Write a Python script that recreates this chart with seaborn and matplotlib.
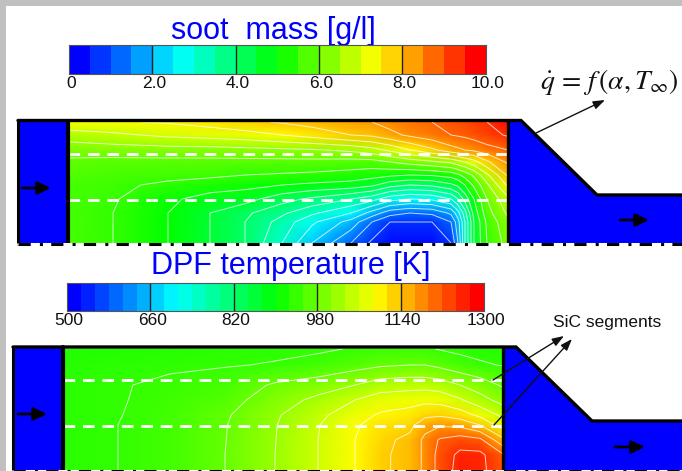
"""
Soot mass and DPF temperature fields in the filter, with the two colour scales
Outputs out.png
"""

import matplotlib.pyplot as plt
import numpy as np
import seaborn as sns
from matplotlib.colors import LinearSegmentedColormap
from matplotlib.patches import Polygon, Rectangle
from matplotlib.transforms import ScaledTranslation

sns.set_style('white')
plt.rcParams['font.family'] = ['Liberation Sans', 'DejaVu Sans']
plt.rcParams['mathtext.fontset'] = 'stix'

soot_bands = [0.25, 0.75, 1.25, 1.75, 2.25, 2.75, 3.25, 3.75, 4.25, 4.75,
              5.25, 5.75, 6.25, 6.75, 7.25, 7.75, 8.25, 8.75, 9.25, 9.75]
soot_ticks = ['0', '2.0', '4.0', '6.0', '8.0', '10.0']

temp_bands = [513, 540, 567, 593, 620, 647, 673, 700, 727, 753,
              780, 807, 833, 860, 887, 913, 940, 967, 993, 1020,
              1047, 1073, 1100, 1127, 1153, 1180, 1207, 1233, 1260, 1287]
temp_ticks = ['500', '660', '820', '980', '1140', '1300']

# field samples, rows run from the top wall to the centre line
soot_x = [68, 113, 168, 210, 245, 282, 312, 351, 372, 390, 410, 432, 451, 458, 465, 474, 487, 508]
soot_y = [122, 135, 150, 162, 175, 185, 199, 213, 222, 243]
soot_field = [
    [7.4, 7.45, 7.55, 7.7, 7.9, 8.05, 8.2, 8.4, 8.5, 8.7, 8.85, 9.0, 9.2, 9.25, 9.3, 9.4, 9.5, 9.9],
    [6.75, 6.9, 7.1, 7.2, 7.3, 7.5, 7.7, 8.0, 8.1, 8.35, 8.6, 8.8, 9.0, 9.05, 9.1, 9.2, 9.35, 9.55],
    [6.2, 6.25, 6.3, 6.3, 6.35, 6.4, 6.45, 6.6, 6.8, 7.1, 7.5, 7.9, 8.3, 8.4, 8.5, 8.6, 8.8, 9.0],
    [5.9, 5.85, 5.85, 5.85, 5.85, 5.85, 5.85, 5.8, 5.8, 6.0, 6.2, 6.4, 6.6, 6.8, 7.0, 7.3, 7.9, 8.6],
    [5.8, 5.7, 5.65, 5.6, 5.5, 5.45, 5.4, 5.3, 5.2, 5.1, 5.0, 5.05, 5.2, 5.4, 5.7, 6.1, 6.9, 8.1],
    [5.7, 5.6, 5.4, 5.25, 5.15, 5.0, 4.9, 4.8, 4.6, 4.2, 4.0, 4.1, 4.4, 4.6, 5.0, 5.6, 6.4, 7.6],
    [5.7, 5.55, 5.1, 4.8, 4.7, 4.2, 3.9, 3.5, 3.2, 2.7, 2.5, 2.6, 3.0, 3.5, 4.2, 5.0, 6.0, 6.9],
    [5.7, 5.5, 5.0, 4.5, 4.1, 3.6, 3.1, 2.5, 1.8, 1.2, 1.0, 1.1, 1.6, 2.3, 3.3, 4.7, 5.8, 6.6],
    [5.7, 5.5, 5.0, 4.5, 4.0, 3.3, 2.6, 1.8, 1.0, 0.5, 0.5, 0.5, 1.0, 1.8, 3.0, 4.5, 5.6, 6.4],
    [5.7, 5.5, 5.0, 4.5, 4.0, 3.0, 2.0, 1.0, 0.4, 0.1, 0.1, 0.1, 0.5, 1.5, 3.0, 4.5, 5.5, 6.2],
]

temp_x = [63, 118, 170, 225, 275, 318, 355, 381, 410, 425, 440, 460, 480, 503]
temp_y = [349, 365, 385, 400, 415, 425, 440, 455, 471]
temp_field = [
    [925, 928, 930, 932, 934, 936, 942, 944, 945, 944, 938, 932, 928, 925],
    [930, 933, 936, 938, 942, 950, 965, 975, 980, 980, 970, 955, 945, 938],
    [932, 938, 945, 955, 985, 1000, 1020, 1040, 1045, 1045, 1040, 1020, 1000, 975],
    [932, 938, 948, 965, 1000, 1030, 1060, 1080, 1085, 1090, 1085, 1065, 1035, 1005],
    [932, 939, 950, 975, 1015, 1050, 1085, 1105, 1115, 1130, 1135, 1120, 1090, 1050],
    [932, 940, 950, 978, 1018, 1058, 1095, 1120, 1130, 1165, 1175, 1170, 1140, 1080],
    [932, 940, 950, 979, 1019, 1060, 1100, 1130, 1150, 1190, 1225, 1240, 1230, 1150],
    [932, 940, 950, 980, 1020, 1060, 1100, 1135, 1150, 1190, 1235, 1270, 1270, 1225],
    [932, 940, 950, 980, 1020, 1060, 1100, 1135, 1150, 1190, 1235, 1275, 1270, 1235],
]

W, H = 682, 471
rainbow = LinearSegmentedColormap.from_list(
    'rainbow5', ['#0000ff', '#00ffff', '#00ff00', '#ffff00', '#ff0000'])


def colour_scale(fig, rect, bands, labels):
    x0, y0, x1, y1 = rect
    ax = fig.add_axes([x0 / W, 1 - y1 / H, (x1 - x0) / W, (y1 - y0) / H])
    sns.heatmap([bands], ax=ax, cmap=rainbow, cbar=False, vmin=bands[0],
                vmax=bands[-1], xticklabels=False, yticklabels=False)
    step = len(bands) / (len(labels) - 1)
    ticks = [i * step for i in range(len(labels))]
    ax.vlines(ticks[1:-1], 0, 1, color='#202020', lw=1)
    ax.set_xticks(ticks)
    ax.set_xticklabels(labels, fontsize=12.5, rotation=0, color='#111111')
    ax.tick_params(axis='x', length=0, pad=1.5)
    shift = ScaledTranslation(2 / 100, 0, fig.dpi_scale_trans)
    for label in ax.get_xticklabels():
        label.set_transform(label.get_transform() + shift)
    for spine in ax.spines.values():
        spine.set_visible(True)
        spine.set_color('#555555')
        spine.set_linewidth(0.8)


def flow_field(ax, x, y, field, levels, vmin, vmax):
    ax.pcolormesh(x, y, field, cmap=rainbow, vmin=vmin, vmax=vmax,
                  shading='gouraud', zorder=1)
    ax.contour(x, y, field, levels=levels, colors='white', linewidths=0.7,
               alpha=0.75, zorder=2)


def filter_outline(ax, left, wall_l, wall_r, cone_top, cone_bot, top, neck, bot):
    ax.add_patch(Rectangle((left, top), wall_l - left, bot - top, fc='#0000ff',
                           ec='none', zorder=3))
    ax.add_patch(Polygon([(wall_r, top), (cone_top, top), (cone_bot, neck),
                          (W, neck), (W, bot), (wall_r, bot)],
                         fc='#0000ff', ec='none', zorder=3))
    # outer wall
    ax.plot([left, left], [top, bot], color='k', lw=2.2, zorder=4)
    ax.plot([left, cone_top, cone_bot, W], [top, top, neck, neck], color='k',
            lw=2.4, zorder=4, solid_joinstyle='miter')
    ax.plot([wall_l, wall_l], [top, bot], color='k', lw=3, zorder=4)
    ax.plot([wall_r, wall_r], [top, bot], color='k', lw=2.4, zorder=4)
    # segment dividers
    for yy in (top + 33, top + 79):
        ax.plot([wall_l, wall_r], [yy, yy], color='white', lw=2,
                dashes=(4.2, 2.8), zorder=3)
    # axis of symmetry
    ax.plot([left, W], [bot, bot], color='white', lw=2.2, zorder=5)
    ax.plot([left, W], [bot, bot], color='k', lw=2.2,
            dashes=(4, 3, 1, 2.7), zorder=5)


def flow_arrow(ax, x0, x1, y):
    ax.annotate('', xy=(x1, y), xytext=(x0, y), zorder=6,
                arrowprops=dict(arrowstyle='-|>,head_width=0.38,head_length=0.8',
                                color='k', lw=2, shrinkA=0, shrinkB=0))


def thin_arrow(ax, start, end):
    ax.annotate('', xy=end, xytext=start, zorder=7,
                arrowprops=dict(arrowstyle='-|>,head_width=0.25,head_length=0.7',
                                color='#111111', lw=1, shrinkA=0, shrinkB=0))


def main():
    fig = plt.figure(figsize=(W / 100, H / 100), dpi=100)
    ax = fig.add_axes([0, 0, 1, 1])
    ax.set_xlim(0, W)
    ax.set_ylim(H, 0)
    ax.axis('off')

    # grey frame of the slide
    ax.add_patch(Rectangle((0, 0), W, 6, fc='#c0c0c0', ec='none', zorder=0))
    ax.add_patch(Rectangle((0, 0), 6, H, fc='#c0c0c0', ec='none', zorder=0))

    flow_field(ax, soot_x, soot_y, soot_field, np.arange(0.5, 10, 0.5), 0, 10)
    filter_outline(ax, 18, 68, 508, 521, 597, 120.5, 195, 244)
    flow_arrow(ax, 22, 51, 188)
    flow_arrow(ax, 620, 649, 220)

    flow_field(ax, temp_x, temp_y, temp_field, np.arange(540, 1300, 40), 500, 1300)
    filter_outline(ax, 13, 63, 503, 516, 592, 347, 421, 470.5)
    flow_arrow(ax, 18, 47, 414)
    flow_arrow(ax, 615, 645, 447)

    ax.text(273, 31, 'soot  mass [g/l]', color='#0000ff', fontsize=22,
            ha='center', va='center')
    ax.text(291, 266, 'DPF temperature [K]', color='#0000ff', fontsize=22,
            ha='center', va='center')
    ax.text(609.5, 82, r'$\dot{q}\,=\,f\,(\alpha, T_{\infty})$', color='#111111',
            fontsize=20, ha='center', va='center')
    ax.text(607, 323, 'SiC segments', color='#111111', fontsize=12.5,
            ha='center', va='center')

    thin_arrow(ax, (536, 133), (605, 100))
    thin_arrow(ax, (493, 380), (564, 336))
    thin_arrow(ax, (494, 425), (572, 339))

    colour_scale(fig, (69, 44.5, 485.5, 73.5), soot_bands, soot_ticks)
    colour_scale(fig, (67, 283, 484, 311), temp_bands, temp_ticks)

    fig.savefig('out.png', dpi=100)


if __name__ == '__main__':
    main()
